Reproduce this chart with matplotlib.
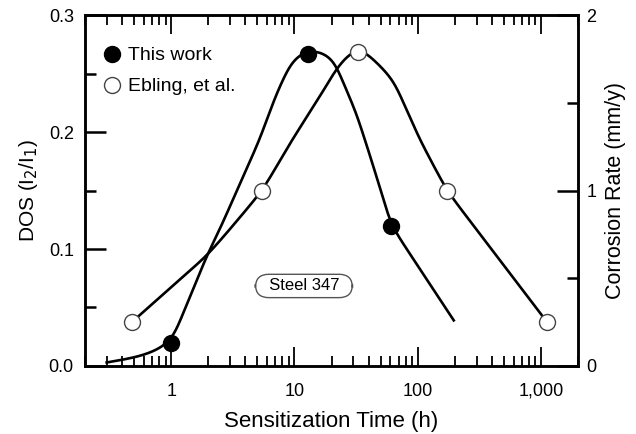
import numpy as np
import matplotlib
matplotlib.use("Agg")
import matplotlib.pyplot as plt
from matplotlib.ticker import FixedLocator, NullFormatter, LogLocator

plt.rcParams['font.family'] = ['Liberation Sans', 'DejaVu Sans']

# data points
this_time = [1, 12.8, 61]
this_dos = [0.02, 0.267, 0.12]
ebling_time = [0.48, 5.5, 33, 172, 1120]
ebling_rate = [0.25, 1.0, 1.79, 1.0, 0.25]

# hand-drawn trend lines
this_curve_t = [0.3, 0.5, 0.69, 1, 1.96, 2.46, 5.19, 7.1, 9.6, 12.8, 20, 31.8, 43, 61, 196]
this_curve_y = [0.003, 0.007, 0.011, 0.02, 0.095, 0.116, 0.193, 0.232, 0.262, 0.272,
                0.266, 0.216, 0.173, 0.12, 0.039]
ebl_curve_t = [0.48, 1.96, 2.96, 5.5, 9.6, 15.9, 23, 33, 62.6, 104, 172, 1120]
ebl_curve_y = [0.25, 0.63, 0.775, 1.0, 1.29, 1.53, 1.72, 1.83, 1.64, 1.29, 1.0, 0.25]

xticks = [1, 10, 100, 1000]
xticklabels = ["1", "10", "100", "1,000"]


def smooth(t, y, ymax, sigma=12):
    # resample the polyline in screen-like units and gaussian-smooth it along its length
    u = np.log10(t) / 4 * 493
    v = np.asarray(y, float) / ymax * 351
    s = np.concatenate([[0], np.cumsum(np.hypot(np.diff(u), np.diff(v)))])
    sn = np.arange(0, s[-1], 0.5)
    sn = np.append(sn, s[-1])
    un = np.interp(sn, s, u)
    vn = np.interp(sn, s, v)
    k = np.arange(-4 * sigma * 2, 4 * sigma * 2 + 1) / 2.0
    g = np.exp(-0.5 * (k / sigma) ** 2)
    g /= g.sum()
    p = len(k) // 2
    out = []
    for a in (un, vn):
        ap = np.concatenate([2 * a[0] - a[p:0:-1], a, 2 * a[-1] - a[-2:-p - 2:-1]])
        out.append(np.convolve(ap, g, mode="valid"))
    return 10**(out[0] * 4 / 493), out[1] / 351 * ymax


fig = plt.figure(figsize=(6.36, 4.34), dpi=100)
ax = fig.add_axes([0.1336, 0.1567, 0.7754, 0.8087])
ax2 = ax.twinx()

xs, ys = smooth(this_curve_t, this_curve_y, 0.3)
ax.plot(xs, ys, color="black", lw=1.9)
ax.plot(this_time, this_dos, "o", color="black", ms=11.5, zorder=5)

xs2, ys2 = smooth(ebl_curve_t, ebl_curve_y, 2.0)
ax2.plot(xs2, ys2, color="black", lw=1.9)
ax2.plot(ebling_time, ebling_rate, "o", mfc="white", mec="#444444", mew=1.0, ms=11.5, zorder=5)

ax.set_xscale("log")
ax.set_xlim(0.2, 2000)
ax.set_ylim(0, 0.3)
ax2.set_ylim(0, 2)

ax.set_xticks(xticks)
ax.set_xticklabels(xticklabels)
ax.xaxis.set_minor_locator(LogLocator(base=10, subs=np.arange(2, 10)))
ax.xaxis.set_minor_formatter(NullFormatter())
ax.set_yticks([0.0, 0.1, 0.2, 0.3])
ax.set_yticklabels(["0.0", "0.1", "0.2", "0.3"])
ax.yaxis.set_minor_locator(FixedLocator([0.05, 0.15, 0.25]))
ax2.set_yticks([0, 1, 2])
ax2.yaxis.set_minor_locator(FixedLocator([0.5, 1.5]))

ax.tick_params(axis="x", which="both", direction="in", top=True, labelsize=13, width=1.3)
ax.tick_params(axis="x", which="major", length=14, pad=12)
ax.tick_params(axis="x", which="minor", length=7)
ax.tick_params(axis="y", which="both", direction="in", right=False, labelsize=13, width=1.8)
ax.tick_params(axis="y", which="major", length=15, pad=8)
ax.tick_params(axis="y", which="minor", length=8)
ax2.tick_params(axis="y", which="both", direction="in", labelsize=13, width=1.8)
ax2.tick_params(axis="y", which="major", length=15, pad=6)
ax2.tick_params(axis="y", which="minor", length=8)

for a in (ax, ax2):
    for s in a.spines.values():
        s.set_linewidth(1.8)

ax.set_xlabel("Sensitization Time (h)", fontsize=16, labelpad=8)
ax.set_ylabel("DOS (I$_2$/I$_1$)", fontsize=15, labelpad=6)
ax2.set_ylabel("Corrosion Rate (mm/y)", fontsize=15.5, labelpad=6)

# legend drawn by hand in axes coordinates
ax.plot([0.055], [0.889], "o", color="black", ms=11.5, transform=ax.transAxes, clip_on=False)
ax.text(0.087, 0.885, "This work", transform=ax.transAxes, fontsize=14, va="center")
ax.plot([0.055], [0.80], "o", mfc="white", mec="#444444", mew=1.0, ms=11.5, transform=ax.transAxes)
ax.text(0.087, 0.796, "Ebling, et al.", transform=ax.transAxes, fontsize=14, va="center")

ax.text(0.444, 0.228, "  Steel 347  ", transform=ax.transAxes, fontsize=12, ha="center", va="center",
        bbox=dict(boxstyle="round,pad=0.25,rounding_size=0.8", fc="white", ec="#555555", lw=1.0))

fig.savefig("out.png", dpi=100)
